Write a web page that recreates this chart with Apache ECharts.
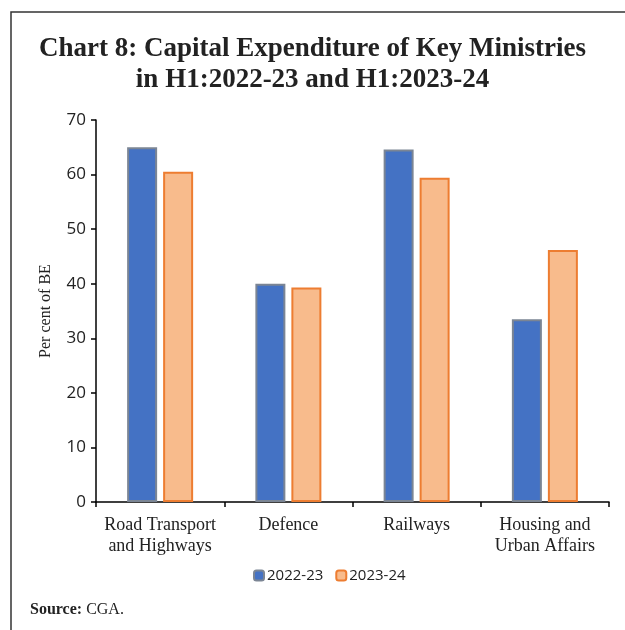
<!DOCTYPE html>
<html>
<head>
<meta charset="utf-8">
<script src="https://cdn.jsdelivr.net/npm/echarts@6/dist/echarts.min.js"></script>
<style>
  html, body { margin: 0; padding: 0; background: #fff; }
  #chart { width: 625px; height: 630px; }
</style>
</head>
<body>
<div id="chart"></div>
<script>
// Ministries compared
const categories = ['Road Transport\nand Highways', 'Defence', 'Railways', 'Housing and\nUrban Affairs'];
// Capital expenditure in H1, per cent of budget estimate
const series2022 = [65.0, 40.0, 64.6, 33.5];
const series2023 = [60.5, 39.3, 59.4, 46.2];
const seriesNames = ['2022-23', '2023-24'];
const yTicks = { min: 0, max: 70, interval: 10 };

const serif = '"Liberation Serif", "DejaVu Serif", serif';
const sans = '"Open Sans", "Noto Sans", sans-serif';

const chart = echarts.init(document.getElementById('chart'), null, { renderer: 'canvas' });
chart.setOption({
  animation: false,
  backgroundColor: '#ffffff',
  title: {
    text: 'Chart 8: Capital Expenditure of Key Ministries\nin H1:2022-23 and H1:2023-24',
    left: 'center',
    top: 29,
    textStyle: { fontFamily: serif, fontWeight: 'bold', fontSize: 27, lineHeight: 31, color: '#222' }
  },
  graphic: [
    { type: 'polyline', shape: { points: [[11, 630], [11, 12], [625, 12]] },
      style: { stroke: '#333', lineWidth: 1.5, fill: null } },
    { type: 'text', left: 30, top: 602,
      style: { text: '{b|Source:} CGA.', fontFamily: serif, fontSize: 16, fill: '#222',
        rich: { b: { fontWeight: 'bold', fontFamily: serif, fontSize: 16 } } } }
  ],
  legend: {
    data: seriesNames,
    top: 563,
    left: 248,
    itemWidth: 10,
    itemHeight: 10,
    itemGap: 12,
    textStyle: { fontFamily: sans, fontSize: 15, color: '#222', padding: [0, 0, 0, -2] }
  },
  grid: { left: 96, right: 16, top: 120, bottom: 128 },
  xAxis: {
    type: 'category',
    data: categories,
    axisLine: { lineStyle: { color: '#000', width: 1.5 } },
    axisTick: { show: true, length: 5, alignWithLabel: false, lineStyle: { color: '#000', width: 1.5 } },
    axisLabel: { fontFamily: serif, fontSize: 18, color: '#222', lineHeight: 21, margin: 13, interval: 0 }
  },
  yAxis: {
    type: 'value',
    min: yTicks.min, max: yTicks.max, interval: yTicks.interval,
    name: 'Per cent of BE',
    nameLocation: 'middle',
    nameGap: 42,
    nameTextStyle: { fontFamily: serif, fontSize: 16, color: '#222' },
    splitLine: { show: false },
    axisLine: { show: true, lineStyle: { color: '#000', width: 1.5 } },
    axisTick: { show: true, length: 5, lineStyle: { color: '#000', width: 1.5 } },
    axisLabel: { fontFamily: sans, fontSize: 17, color: '#222', margin: 10 }
  },
  series: [
    { name: seriesNames[0], type: 'bar', data: series2022, barWidth: 30, barGap: '20%',
      itemStyle: { color: '#4472C4', borderColor: '#7b8594', borderWidth: 2 } },
    { name: seriesNames[1], type: 'bar', data: series2023, barWidth: 30,
      itemStyle: { color: '#F8BB8C', borderColor: '#ED7D31', borderWidth: 2 } }
  ]
});
</script>
</body>
</html>
